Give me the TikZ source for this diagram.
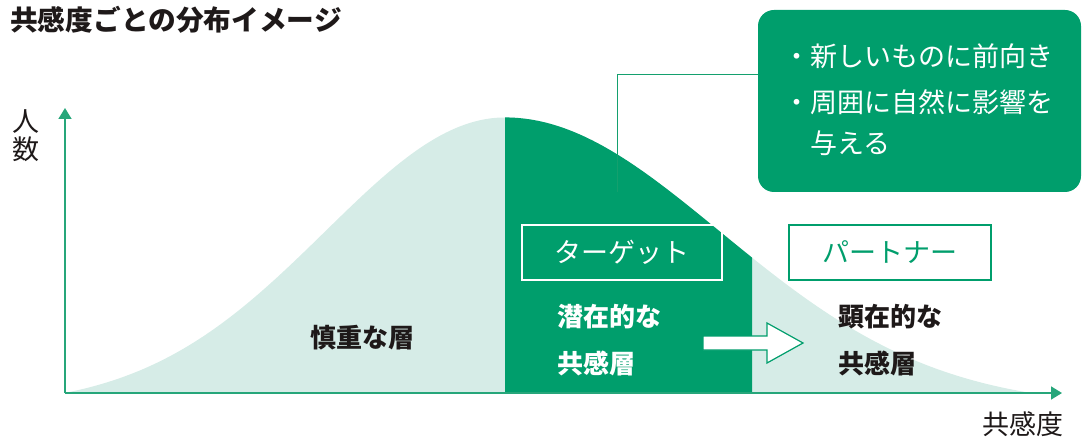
\documentclass[tikz,border=0pt]{standalone}
\usepackage{fontspec}
\setmainfont{Noto Sans CJK JP}
\usetikzlibrary{arrows.meta}
\definecolor{dkgreen}{RGB}{0,158,108}
\definecolor{ltgreen}{RGB}{214,236,231}
\definecolor{axgreen}{RGB}{38,166,122}
\definecolor{lngreen}{RGB}{20,160,110}
\definecolor{ink}{RGB}{30,25,25}
\begin{document}
\begin{tikzpicture}[x=1pt,y=-1pt,
  lbl/.style={inner sep=0pt, font=\fontsize{27}{30}\selectfont},
  lblb/.style={inner sep=0pt, font=\fontsize{26}{30}\selectfont\bfseries},
  axisline/.style={draw=axgreen, line width=1.6pt, -{Triangle[width=13pt,length=11pt]}},
  conn/.style={draw=lngreen, line width=1pt},
  callout/.style={fill=dkgreen, rounded corners=16pt, minimum width=323pt, minimum height=182pt, inner sep=0pt},
  tagbox/.style={line width=1.5pt, minimum width=200pt, minimum height=55pt, inner sep=0pt, font=\fontsize{27}{30}\selectfont}
]
\useasboundingbox (0,0) rectangle (1083,438);
% distribution curve
\fill[ltgreen] (65,393) -- plot[domain=65:505,samples=90] (\x,{393-290*(exp(-((\x-505)/180)^2/2)-0.05)})
  -- plot[domain=505:1031,samples=110] (\x,{393-290*(exp(-((\x-505)/215)^2/2)-0.05)}) -- cycle;
\fill[dkgreen] (505,393) -- plot[domain=505:752,samples=60] (\x,{393-290*(exp(-((\x-505)/215)^2/2)-0.05)}) -- (752,393) -- cycle;
% axes
\coordinate (O) at (65,393);
\coordinate (ytip) at (65,108);
\coordinate (xtip) at (1062,393);
\draw[axisline] (O) -- (ytip);
\draw[axisline] (O) -- (xtip);
% title and axis labels
\node[inner sep=0pt, anchor=west, font=\fontsize{27.7}{30}\selectfont\bfseries, text=ink] (title) at (10,20) {共感度ごとの分布イメージ};
\node[inner sep=0pt, align=center, font=\fontsize{27}{28}\selectfont, text=ink] (ylab) at (26,136) {人\\数};
\node[inner sep=0pt, font=\fontsize{27}{30}\selectfont, text=ink] (xlab) at (1023,424) {共感度};
% callout
\node[callout] (call) at (919.5,101) {};
\node[lbl, text=white, anchor=west] (c1) at (783,56) {・新しいものに前向き};
\node[lbl, text=white, anchor=west] (c2) at (783,102) {・周囲に自然に影響を};
\node[lbl, text=white, anchor=west] (c3) at (810,143) {与える};
\coordinate (knee) at (617,75);
\coordinate (cend) at (617,192);
\draw[conn] (call.west |- knee) -- (knee) -- (cend);
% tag boxes
\node[tagbox, draw=white, text=white] (target) at (622,252.5) {ターゲット};
\node[tagbox, draw=dkgreen, fill=white, text=dkgreen, minimum width=202pt] (partner) at (890,252.5) {パートナー};
% layer labels
\node[lblb, text=ink] (shin) at (362,338) {慎重な層};
\node[lblb, text=white, anchor=west] (sen1) at (557,317) {潜在的な};
\node[lblb, text=white, anchor=west] (sen2) at (557,363) {共感層};
\node[lblb, text=ink, anchor=west] (ken1) at (838,317) {顕在的な};
\node[lblb, text=ink, anchor=west] (ken2) at (838,363) {共感層};
% block arrow
\draw[draw=dkgreen, fill=white, line width=1.2pt] (703,336) -- (767,336) -- (767,323) -- (803,343) -- (767,363) -- (767,350) -- (703,350) -- cycle;
\end{tikzpicture}
\end{document}
